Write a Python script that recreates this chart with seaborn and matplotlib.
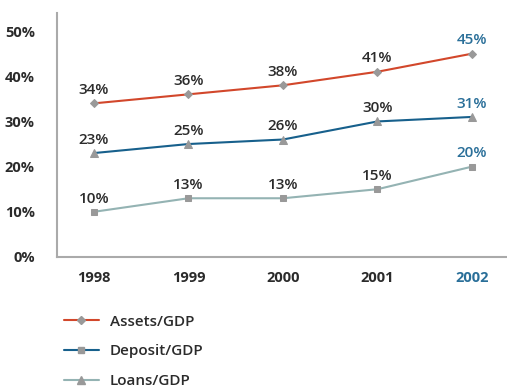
import matplotlib
matplotlib.use("Agg")
import matplotlib.pyplot as plt
from matplotlib.lines import Line2D
import seaborn as sns
import pandas as pd

years = ["1998", "1999", "2000", "2001", "2002"]
assets_gdp = [34, 36, 38, 41, 45]
deposit_gdp = [23, 25, 26, 30, 31]
loans_gdp = [10, 13, 13, 15, 20]
y_ticks = [0, 10, 20, 30, 40, 50]

sns.set_style("white")
plt.rcParams["font.family"] = ["Open Sans", "DejaVu Sans"]

RED = "#d2472b"
BLUE = "#17608c"
TEAL = "#94b3b3"
MARK = "#999999"
TEXT = "#2b2b2b"
HILITE = "#2a6f99"

df = pd.DataFrame({
    "year": years * 3,
    "x": list(range(len(years))) * 3,
    "value": assets_gdp + deposit_gdp + loans_gdp,
    "series": ["Assets/GDP"] * 5 + ["Deposit/GDP"] * 5 + ["Loans/GDP"] * 5,
})

fig = plt.figure(figsize=(5.07, 3.87), dpi=100)
ax = fig.add_axes([57 / 507, 1 - 257 / 387, 450 / 507, 244 / 387])

styles = {
    "Assets/GDP": (RED, "D", 4.0),
    "Deposit/GDP": (BLUE, "^", 6.0),
    "Loans/GDP": (TEAL, "s", 5.0),
}
for name, (color, marker, ms) in styles.items():
    sub = df[df["series"] == name]
    sns.lineplot(data=sub, x="x", y="value", ax=ax, color=color, linewidth=1.5,
                 marker=marker, markersize=ms, markerfacecolor=MARK,
                 markeredgecolor=MARK, legend=False)
    for i, (xv, yv) in enumerate(zip(sub["x"], sub["value"])):
        c = HILITE if i == len(years) - 1 else TEXT
        ax.annotate(f"{yv}%", (xv, yv), xytext=(0, 4.5), textcoords="offset points",
                    ha="center", va="bottom", fontsize=11, color=c,
                    fontweight="semibold")

ax.set_xlim(-0.39, 4.37)
ax.set_ylim(0, 54)
ax.set_xticks(range(len(years)))
ax.set_xticklabels(years)
ax.set_yticks(y_ticks)
ax.set_yticklabels([f"{t}%" for t in y_ticks])
ax.set_xlabel("")
ax.set_ylabel("")
ax.tick_params(axis="both", length=0, labelsize=10.5, colors=TEXT)
ax.tick_params(axis="x", pad=10)
ax.tick_params(axis="y", pad=16)
for lab in ax.get_xticklabels() + ax.get_yticklabels():
    lab.set_fontweight("bold")
ax.get_xticklabels()[-1].set_color(HILITE)

for s in ["top", "right"]:
    ax.spines[s].set_visible(False)
for s in ["left", "bottom"]:
    ax.spines[s].set_color("#aaaaaa")
    ax.spines[s].set_linewidth(1.5)

handles = [
    Line2D([], [], color=RED, lw=1.5, marker="D", ms=4, mfc=MARK, mec=MARK),
    Line2D([], [], color=BLUE, lw=1.5, marker="s", ms=5, mfc=MARK, mec=MARK),
    Line2D([], [], color=TEAL, lw=1.5, marker="^", ms=5.5, mfc=MARK, mec=MARK),
]
leg = fig.legend(handles, ["Assets/GDP", "Deposit/GDP", "Loans/GDP"],
                 loc="upper left", bbox_to_anchor=(50 / 507, 1 - 301 / 387),
                 frameon=False, fontsize=11, handlelength=2.3, labelspacing=1.02,
                 handletextpad=0.7, labelcolor=TEXT)
for t in leg.get_texts():
    t.set_fontweight("semibold")

fig.savefig("out.png", dpi=100)
